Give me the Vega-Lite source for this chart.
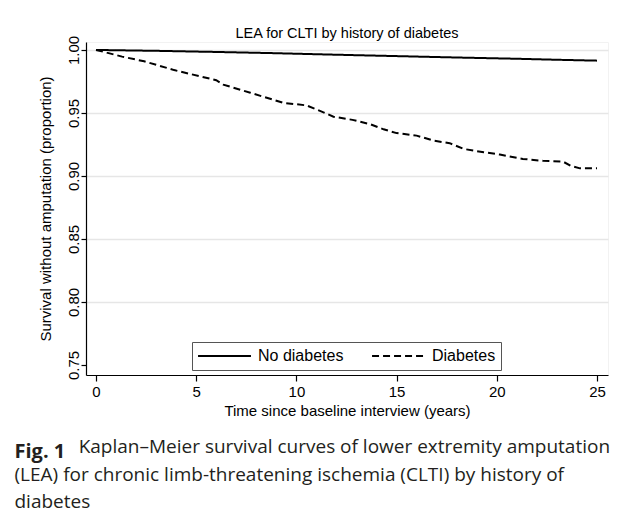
{
  "$schema": "https://vega.github.io/schema/vega-lite/v6.json",
  "background": "white",
  "padding": {"left": 14, "top": 25, "right": 5, "bottom": 5},
  "title": {
    "text": "Fig. 1",
    "subtitle": ["\u200b\u00a0\u00a0\u00a0\u00a0\u00a0\u00a0\u00a0\u00a0\u00a0\u00a0\u00a0\u00a0\u00a0Kaplan\u2013Meier survival curves of lower extremity amputation", "(LEA) for chronic limb-threatening ischemia (CLTI) by history of", "diabetes"],
    "orient": "bottom",
    "anchor": "start",
    "frame": "bounds",
    "font": "Open Sans",
    "fontSize": 20,
    "fontWeight": "bold",
    "color": "#231f20",
    "subtitleFont": "Open Sans",
    "subtitleFontSize": 19,
    "subtitleFontWeight": "normal",
    "subtitleColor": "#231f20",
    "subtitleLineHeight": 27.5,
    "subtitlePadding": -23.5,
    "offset": 23,
    "dx": -23
  },
  "vconcat": [
    {
      "width": 522,
      "height": 333,
      "title": {"text": "LEA for CLTI by history of diabetes", "font": "Liberation Sans", "fontSize": 14.5, "fontWeight": "normal", "color": "#000000", "offset": -6, "anchor": "middle"},
      "data": {"values": [
        {"group": "No diabetes", "t": 0, "s": 1.0},
        {"group": "No diabetes", "t": 3, "s": 0.9993},
        {"group": "No diabetes", "t": 6, "s": 0.9984},
        {"group": "No diabetes", "t": 9, "s": 0.9974},
        {"group": "No diabetes", "t": 12, "s": 0.9962},
        {"group": "No diabetes", "t": 15, "s": 0.9951},
        {"group": "No diabetes", "t": 18, "s": 0.994},
        {"group": "No diabetes", "t": 21, "s": 0.993},
        {"group": "No diabetes", "t": 23, "s": 0.9922},
        {"group": "No diabetes", "t": 25, "s": 0.9915},
        {"group": "Diabetes", "t": 0, "s": 1.0},
        {"group": "Diabetes", "t": 0.5, "s": 0.998},
        {"group": "Diabetes", "t": 1.3, "s": 0.9947},
        {"group": "Diabetes", "t": 2.4, "s": 0.991},
        {"group": "Diabetes", "t": 3.9, "s": 0.984},
        {"group": "Diabetes", "t": 5.2, "s": 0.979},
        {"group": "Diabetes", "t": 6.0, "s": 0.976},
        {"group": "Diabetes", "t": 6.35, "s": 0.9725},
        {"group": "Diabetes", "t": 7.7, "s": 0.966},
        {"group": "Diabetes", "t": 9.35, "s": 0.958},
        {"group": "Diabetes", "t": 10.5, "s": 0.956},
        {"group": "Diabetes", "t": 11.35, "s": 0.9505},
        {"group": "Diabetes", "t": 11.85, "s": 0.947},
        {"group": "Diabetes", "t": 12.8, "s": 0.9445},
        {"group": "Diabetes", "t": 13.7, "s": 0.941},
        {"group": "Diabetes", "t": 14.35, "s": 0.937},
        {"group": "Diabetes", "t": 15.0, "s": 0.934},
        {"group": "Diabetes", "t": 16.0, "s": 0.932},
        {"group": "Diabetes", "t": 16.85, "s": 0.928},
        {"group": "Diabetes", "t": 17.65, "s": 0.926},
        {"group": "Diabetes", "t": 18.35, "s": 0.9214},
        {"group": "Diabetes", "t": 19.35, "s": 0.9188},
        {"group": "Diabetes", "t": 20.15, "s": 0.917},
        {"group": "Diabetes", "t": 21.3, "s": 0.9135},
        {"group": "Diabetes", "t": 22.3, "s": 0.912},
        {"group": "Diabetes", "t": 23.3, "s": 0.9114},
        {"group": "Diabetes", "t": 23.7, "s": 0.908},
        {"group": "Diabetes", "t": 24.15, "s": 0.906},
        {"group": "Diabetes", "t": 25, "s": 0.906}
      ]},
      "mark": {"type": "line", "color": "#000000", "strokeWidth": 2, "clip": true},
      "encoding": {
        "x": {
          "field": "t", "type": "quantitative",
          "scale": {"domain": [-0.5, 25.55], "nice": false, "zero": false},
          "axis": {
            "values": [0, 5, 10, 15, 20, 25],
            "title": "Time since baseline interview (years)",
            "grid": false,
            "labelFontSize": 15, "titleFontSize": 15,
            "labelPadding": 3, "titlePadding": 4,
            "tickSize": 6
          }
        },
        "y": {
          "field": "s", "type": "quantitative",
          "scale": {"domain": [0.742, 1.0063], "nice": false, "zero": false},
          "axis": {
            "values": [0.75, 0.8, 0.85, 0.9, 0.95, 1.0],
            "format": ".2f",
            "title": "Survival without amputation (proportion)",
            "labelAngle": -90,
            "labelAlign": "center",
            "labelBaseline": "alphabetic",
            "labelFontSize": 15, "titleFontSize": 15,
            "labelPadding": 3, "titlePadding": 13,
            "tickSize": 5,
            "grid": true,
            "gridColor": "#e6e6e6",
            "gridWidth": 1.5,
            "gridOpacity": {"condition": {"test": "datum.value < 0.76", "value": 0}, "value": 1}
          }
        },
        "strokeDash": {
          "field": "group", "type": "nominal",
          "scale": {"domain": ["No diabetes", "Diabetes"], "range": [[1, 0], [7, 4]]},
          "legend": {
            "orient": "none",
            "legendX": 106,
            "legendY": 300,
            "direction": "horizontal",
            "title": null,
            "padding": 5,
            "clipHeight": 18,
            "strokeColor": "#555555",
            "fillColor": "white",
            "symbolType": "stroke",
            "symbolSize": 2800,
            "symbolStrokeWidth": 2,
            "symbolStrokeColor": "#000000",
            "labelFontSize": 16,
            "labelFont": "Liberation Sans",
            "labelColor": "#000000",
            "labelOffset": 6,
            "columnPadding": 27
          }
        }
      }
    }
  ],
  "config": {
    "font": "Liberation Sans",
    "view": {"stroke": "#f2f2f2"},
    "axis": {
      "labelFont": "Liberation Sans",
      "titleFont": "Liberation Sans",
      "labelColor": "#000000",
      "titleColor": "#000000",
      "titleFontWeight": "normal",
      "domainColor": "#000000",
      "tickColor": "#000000",
      "domainWidth": 1.2,
      "tickWidth": 1.2
    }
  }
}
